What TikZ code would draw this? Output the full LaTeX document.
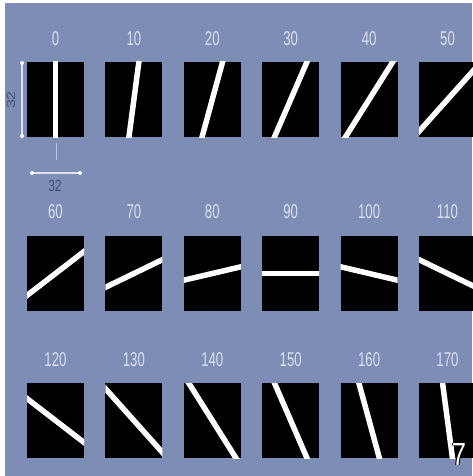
\documentclass[tikz,border=0pt]{standalone}
\usepackage{fontspec}
\setmainfont{Liberation Sans}
\definecolor{bgblue}{RGB}{126,141,182}
\definecolor{labcol}{RGB}{218,224,240}
\definecolor{dimdark}{RGB}{66,80,120}
\tikzset{
  sqbox/.style={fill=black, draw=none, minimum width=57pt, minimum height=75pt, inner sep=0pt, outer sep=0pt},
  barline/.style={draw=white, line width=5.5pt},
  anglabel/.style={text=labcol, font=\fontsize{20}{20}\selectfont, xscale=0.66, inner sep=0pt},
  dimline/.style={draw=labcol!90!white, line width=1.2pt},
  dimdot/.style={fill=white!92!labcol, draw=none, circle, minimum size=4pt, inner sep=0pt},
  dimtext/.style={text=dimdark, font=\fontsize{16}{16}\selectfont, xscale=0.75, inner sep=0pt}
}
\begin{document}
\begin{tikzpicture}[x=1pt,y=-1pt]
\useasboundingbox (0,0) rectangle (472,476);
\fill[white] (0,0) rectangle (472,476);
\fill[bgblue] (5,3) rectangle (472,476);
% squares
\foreach \a [count=\i from 0] in {0,10,...,170} {
  \pgfmathtruncatemacro\r{int(\i/6)}
  \pgfmathtruncatemacro\c{mod(\i,6)}
  \pgfmathsetmacro\cx{27+78.4*\c+28.5}
  \pgfmathsetmacro\cy{{99.5,273.5,420.5}[\r]}
  \pgfmathsetmacro\ly{{39,212,360}[\r]}
  \pgfmathsetmacro\ux{sin(\a)*60}
  \pgfmathsetmacro\uy{cos(\a)*80}
  \node[sqbox] (sq\i) at (\cx,\cy) {};
  \begin{scope}
    \clip (sq\i.south west) rectangle (sq\i.north east);
    \draw[barline] (sq\i.center) ++(-\ux,\uy) -- ++(2*\ux,-2*\uy);
  \end{scope}
  \node[anglabel] (lab\i) at (\cx,\ly) {\a};
}
% dimension marks
\coordinate (vt) at (22,63);
\coordinate (vb) at (22,136);
\draw[dimline] (vt) -- (vb);
\node[dimdot] (vtd) at (vt) {};
\node[dimdot] (vbd) at (vb) {};
\node[dimtext, rotate=90] (vlab) at (11,100) {32};
\coordinate (tk1) at (56,143);
\coordinate (tk2) at (56,160);
\draw[draw=labcol!70!bgblue, line width=1pt] (tk1) -- (tk2);
\coordinate (hl) at (32,173);
\coordinate (hr) at (80,173);
\draw[dimline] (hl) -- (hr);
\node[dimdot] (hld) at (hl) {};
\node[dimdot] (hrd) at (hr) {};
\node[dimtext] (hlab) at (55,186) {32};
% figure number
\foreach \ox/\oy in {-0.9/0,0.9/0,0/-0.9,0/0.9} {
  \node[text=black, font=\fontsize{32}{32}\selectfont, xscale=0.8, inner sep=0pt] at (459+\ox,454+\oy) {7};
}
\node[text=white, font=\fontsize{32}{32}\selectfont, xscale=0.8, inner sep=0pt] (fignum) at (459,454) {7};
\end{tikzpicture}
\end{document}
